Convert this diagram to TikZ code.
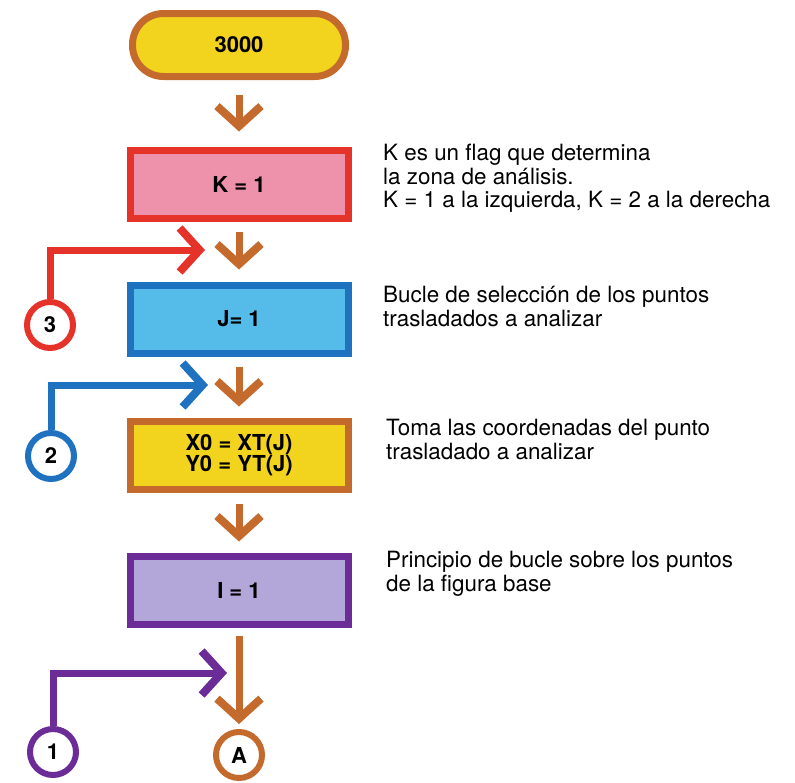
\documentclass[tikz,border=0pt]{standalone}
\usepackage{fontspec}
\setmainfont{TeX Gyre Heros}
\usetikzlibrary{arrows.meta,positioning}
\definecolor{cbrown}{HTML}{C46A2C}
\definecolor{cyellow}{HTML}{F2D31E}
\definecolor{cred}{HTML}{E5332A}
\definecolor{cpink}{HTML}{EE91AA}
\definecolor{cblue}{HTML}{1F72C0}
\definecolor{clblue}{HTML}{55BCEA}
\definecolor{cpurple}{HTML}{6B2C98}
\definecolor{clilac}{HTML}{B3A7D9}
\newcommand{\boxfont}{\bfseries\fontsize{22}{19}\selectfont}
\newcommand{\notefont}{\fontsize{22.4}{23.5}\selectfont}

\begin{document}
\begin{tikzpicture}[
  x=1pt,y=-1pt,
  flow/.style={line width=7pt,line join=miter,-{Straight Barb[length=20pt,width=44pt,line width=8pt]}},
  term/.style={rectangle,rounded corners=31pt,line width=7pt,minimum width=213pt,minimum height=63pt,font=\boxfont},
  procbox/.style={rectangle,line width=7pt,minimum width=218pt,minimum height=68pt,align=center,font=\boxfont},
  conn/.style={circle,line width=6pt,fill=white,minimum size=46pt,inner sep=0pt,font=\boxfont},
  note/.style={anchor=north west,inner sep=0pt,align=left,font=\notefont}]
\useasboundingbox (0,0) rectangle (795,782);

% main column
\node[term,draw=cbrown,fill=cyellow] (start) at (239,45) {3000};
\node[procbox,draw=cred,fill=cpink] (K) at (239,184) {K = 1};
\node[procbox,draw=cblue,fill=clblue] (J) at (239,319) {J= 1};
\node[procbox,draw=cbrown,fill=cyellow] (X) at (239,455) {X0 = XT(J)\\Y0 = YT(J)};
\node[procbox,draw=cpurple,fill=clilac] (I) at (239,590) {I = 1};
\node[conn,draw=cbrown] (A) at (239,755) {A};

\draw[flow,cbrown,shorten <=15pt,shorten >=15pt] (start) -- (K);
\draw[flow,cbrown,shorten <=10pt,shorten >=12pt] (K) -- (J);
\draw[flow,cbrown,shorten <=10pt,shorten >=11pt] (J) -- (X);
\draw[flow,cbrown,shorten <=11pt,shorten >=11pt] (X) -- (I);
\draw[flow,cbrown,shorten <=8pt,shorten >=5pt] (I) -- (A);

% loop connectors
\node[conn,draw=cred] (c3) at (50,325) {3};
\node[conn,draw=cblue] (c2) at (51,456) {2};
\node[conn,draw=cpurple] (c1) at (53,752) {1};
\coordinate (e3) at (205,250);
\coordinate (e2) at (208,385);
\coordinate (e1) at (227,673);
\draw[flow,cred] (c3) |- (e3);
\draw[flow,cblue] (c2) |- (e2);
\draw[flow,cpurple] (c1) |- (e1);

% notes
\node[note] (nK) at (383,144) {K es un flag que determina\\la zona de análisis.\\K = 1 a la izquierda, K = 2 a la derecha};
\node[note] (nJ) at (383,286) {Bucle de selección de los puntos\\trasladados a analizar};
\node[note] (nX) at (386,419) {Toma las coordenadas del punto\\trasladado a analizar};
\node[note] (nI) at (386,551) {Principio de bucle sobre los puntos\\de la figura base};
\end{tikzpicture}
\end{document}
